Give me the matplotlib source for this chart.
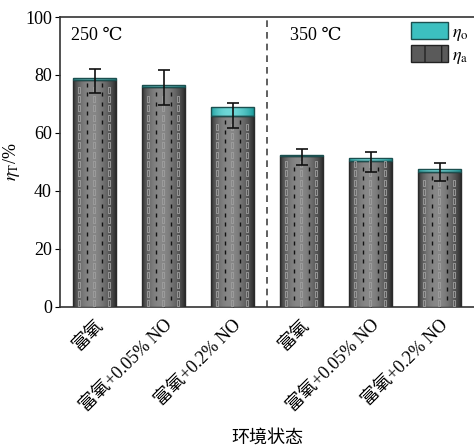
import matplotlib
matplotlib.use("Agg")
import matplotlib.pyplot as plt
import numpy as np
from matplotlib.patches import Patch
from matplotlib.path import Path

plt.rcParams['font.family'] = ['Liberation Serif', 'DejaVu Serif', 'Noto Sans CJK SC']
plt.rcParams['mathtext.fontset'] = 'stix'
plt.rcParams['font.size'] = 13

# data
categories = ['富氧', '富氧+0.05% NO', '富氧+0.2% NO',
              '富氧', '富氧+0.05% NO', '富氧+0.2% NO']
eta_a = [78.3, 75.8, 66.0, 51.9, 50.4, 46.4]
eta_o = [0.7, 0.7, 3.1, 0.4, 0.9, 1.1]
err_mid = [77.9, 75.8, 66.0, 51.8, 50.0, 46.6]
err = [4.2, 6.0, 4.4, 2.8, 3.4, 3.2]
groups = ['250 ℃', '350 ℃']


def cylinder(ax, bar, dark, light):
    # horizontal gradient clipped to the bar, looks like a cylinder
    x0, y0 = bar.get_x(), bar.get_y()
    w, h = bar.get_width(), bar.get_height()
    t = np.linspace(0, 1, 64)
    prof = np.sin(np.pi * t ** 0.85) ** 0.8
    dark = np.array(matplotlib.colors.to_rgb(dark))
    light = np.array(matplotlib.colors.to_rgb(light))
    img = dark[None, :] + (light - dark)[None, :] * prof[:, None]
    im = ax.imshow(img[None, :, :], extent=(x0, x0 + w, y0, y0 + h),
                   aspect='auto', zorder=2.9, interpolation='bilinear')
    im.set_clip_path(bar)


rect = Path([(-0.25, -1), (0.25, -1), (0.25, 1), (-0.25, 1), (-0.25, -1)],
            [Path.MOVETO, Path.LINETO, Path.LINETO, Path.LINETO, Path.CLOSEPOLY])


def pattern(ax, bar):
    x0, w, h = bar.get_x(), bar.get_width(), bar.get_height()
    step = 3.2
    for i, f in enumerate(np.linspace(0.14, 0.84, 5)):
        off = 1.6 if i % 2 else 0.0
        ys = np.arange(1.3 + off, h - 1.0, step)
        xs = np.full_like(ys, x0 + f * w)
        if i % 2:
            ax.plot(xs, ys, ls='none', marker='|', ms=3.2, mew=1.0,
                    color='#111111', zorder=3.1)
        else:
            ax.plot(xs, ys, ls='none', marker=rect, ms=3.8, mew=0.6,
                    mfc='none', mec='#a0a0a0', zorder=3.1)


fig = plt.figure(figsize=(4.74, 4.48), dpi=100)
ax = fig.add_axes([0.127, 0.315, 0.873, 0.647])

x = np.arange(len(categories))
width = 0.62
bars_a = ax.bar(x, eta_a, width, color='none', edgecolor='#2a2a2a',
                linewidth=1.0, zorder=3)
bars_o = ax.bar(x, eta_o, width, bottom=eta_a, color='none',
                edgecolor='#1c4f4f', linewidth=1.0, zorder=3)
ax.set_xlim(-0.5, 5.5)
ax.set_ylim(0, 100)

for b in bars_a:
    cylinder(ax, b, '#2c2c2c', '#888888')
    pattern(ax, b)
for b in bars_o:
    cylinder(ax, b, '#1a9a9a', '#6fd8d8')

ax.errorbar(x, err_mid, yerr=err, fmt='none', ecolor='#111111',
            elinewidth=1.2, capsize=4, capthick=1.2, zorder=4)

ax.axvline(2.5, color='#444444', ls=(0, (4, 3)), lw=1.2, zorder=1)
ax.text(0.025, 0.965, groups[0], transform=ax.transAxes, va='top', ha='left',
        fontsize=13)
ax.text(0.555, 0.965, groups[1], transform=ax.transAxes, va='top', ha='left',
        fontsize=13)

ax.set_xticks(x)
ax.set_xticklabels(categories, rotation=45, ha='right', rotation_mode='anchor')
ax.set_yticks(np.arange(0, 101, 20))
ax.tick_params(axis='x', direction='in', length=4, pad=7)
ax.tick_params(axis='y', direction='out', length=3.5, pad=2.5)
for s in ['left', 'bottom', 'top']:
    ax.spines[s].set_color('#333333')
    ax.spines[s].set_linewidth(1.2)
ax.spines['right'].set_visible(False)

ax.set_ylabel(r'$\eta_\mathrm{T}$/%', labelpad=2)
ax.set_xlabel('环境状态', labelpad=10)

handles = [Patch(facecolor='#3cc0c0', edgecolor='#1c4f4f'),
           Patch(facecolor='#5a5a5a', edgecolor='#222222', hatch='|')]
ax.legend(handles, [r'$\eta_\mathrm{o}$', r'$\eta_\mathrm{a}$'],
          loc='upper right', frameon=False, handlelength=2.1,
          handleheight=1.0, handletextpad=0.2, labelspacing=0.15,
          borderaxespad=0.2, borderpad=0.1, fontsize=13)

fig.savefig('out.png', dpi=100)
